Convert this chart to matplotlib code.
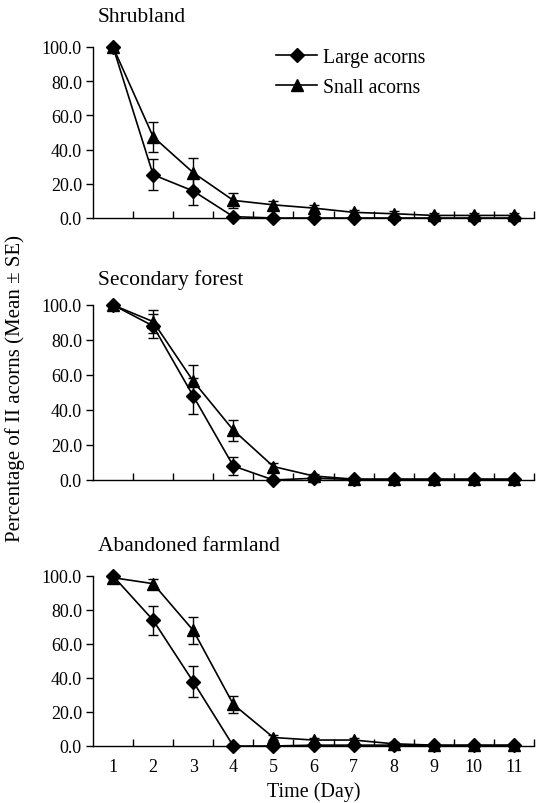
import numpy as np
import matplotlib
matplotlib.use("Agg")
import matplotlib.pyplot as plt
from matplotlib.lines import Line2D
from matplotlib.ticker import FormatStrFormatter, FixedLocator

plt.rcParams['font.family'] = ['Liberation Serif', 'DejaVu Serif']
plt.rcParams['font.size'] = 13

days = np.arange(1, 12)
day_labels = [str(d) for d in days]
y_ticks = [0, 20, 40, 60, 80, 100]

panel_titles = ["Shrubland", "Secondary forest", "Abandoned farmland"]
series_names = ["Large acorns", "Snall acorns"]

# Shrubland
large_shrub = [100, 25.3, 15.8, 0.8, 0, 0, 0, 0, 0, 0, 0]
large_shrub_se = [0, 9.2, 8.0, 0, 0, 0, 0, 0, 0, 0, 0]
small_shrub = [100, 47.5, 26.5, 10.3, 7.7, 5.8, 3.3, 2.5, 1.5, 1.5, 1.5]
small_shrub_se = [0, 8.8, 8.8, 4.5, 2.5, 1.8, 1.5, 1.5, 1.5, 1.5, 1.5]

# Secondary forest
large_sec = [100, 88, 48, 8, 0, 1, 0.3, 0.3, 0.3, 0.3, 0.3]
large_sec_se = [0, 7, 10.5, 5, 0, 0, 0, 0, 0, 0, 0]
small_sec = [100, 90.5, 56.5, 28.5, 7.7, 2.3, 0.5, 0.5, 0.5, 0.5, 0.5]
small_sec_se = [0, 6.5, 9.5, 6, 2, 1, 0, 0, 0, 0, 0]

# Abandoned farmland
large_aban = [100, 74, 37.8, 0, 0, 0.5, 0.5, 0.5, 0.3, 0.3, 0.3]
large_aban_se = [0, 8.5, 9, 0, 0, 0, 0, 0, 0, 0, 0]
small_aban = [99, 95.5, 68, 24.5, 5, 3.5, 3.5, 1.3, 0.5, 0.5, 0.5]
small_aban_se = [0, 2.5, 8, 5, 1.5, 1, 1, 0.8, 0, 0, 0]

panels = [
    (large_shrub, large_shrub_se, small_shrub, small_shrub_se),
    (large_sec, large_sec_se, small_sec, small_sec_se),
    (large_aban, large_aban_se, small_aban, small_aban_se),
]

W, H = 536, 804
fig = plt.figure(figsize=(W / 100, H / 100), dpi=100)

# axes boxes in pixels: (y of 100, y of 0)
boxes = [(48, 219), (306, 481), (577, 747)]
title_y = [18, 280, 547]
ax_left, ax_right = 93, 534

style = dict(color='black', lw=1.2, elinewidth=1.0, capsize=3.6, capthick=1.0, zorder=3)

for i, (box, data) in enumerate(zip(boxes, panels)):
    top, bot = box
    ax = fig.add_axes([ax_left / W, 1 - bot / H, (ax_right - ax_left) / W, (bot - top) / H])
    lg, lg_se, sm, sm_se = data
    for y, se, mk, ms in [(lg, lg_se, 'D', 7), (sm, sm_se, '^', 8.5)]:
        cont = ax.errorbar(days, y, yerr=se, marker=mk, markersize=ms, **style)
        for art in cont.get_children():
            art.set_clip_on(False)
    ax.set_xlim(0.5, 11.5)
    ax.set_ylim(0, 100)
    ax.spines['top'].set_visible(False)
    ax.spines['right'].set_visible(False)
    for s in ['left', 'bottom']:
        ax.spines[s].set_linewidth(1.0)
    ax.set_yticks(y_ticks)
    ax.yaxis.set_major_formatter(FormatStrFormatter('%.1f'))
    ax.tick_params(axis='y', direction='out', length=5, width=1.0, pad=3)
    ax.set_xticks(days)
    ax.xaxis.set_minor_locator(FixedLocator(np.arange(1.5, 12, 1)))
    ax.tick_params(axis='x', which='major', length=0, pad=9)
    ax.tick_params(axis='x', which='minor', direction='in', length=5, width=1.0)
    if i < 2:
        ax.set_xticklabels([])
    else:
        ax.set_xticklabels(day_labels)
        ax.set_xlabel("Time (Day)", fontsize=14.5, labelpad=4)
    fig.text(98 / W, 1 - title_y[i] / H, panel_titles[i], fontsize=15.5, va='center', ha='left')
    if i == 0:
        handles = [Line2D([], [], color='black', lw=1.2, marker='D', markersize=7),
                   Line2D([], [], color='black', lw=1.2, marker='^', markersize=8.5)]
        ax.legend(handles, series_names, loc='upper left', bbox_to_anchor=(276 / W, 1 - 49 / H),
                  bbox_transform=fig.transFigure, frameon=False, borderpad=0,
                  borderaxespad=0, handlelength=2.1, handletextpad=0.3,
                  labelspacing=0.55, fontsize=14.2)

fig.text(15 / W, 1 - 388 / H, "Percentage of II acorns (Mean \u00b1 SE)", rotation=90,
         va='center', ha='center', fontsize=15)

fig.savefig("out.png", dpi=100)
